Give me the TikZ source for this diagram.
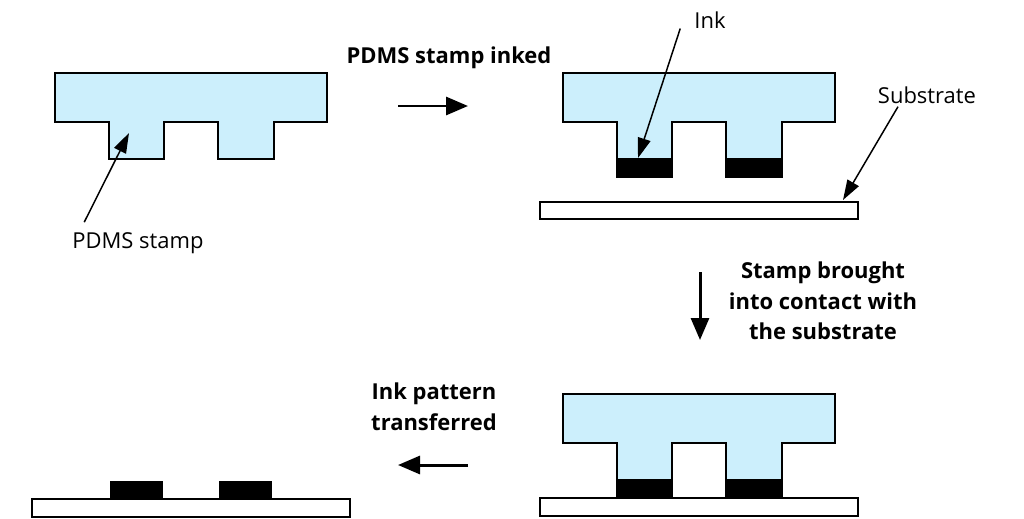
\documentclass[tikz,border=0pt]{standalone}
\usepackage{fontspec}
\setmainfont{Open Sans}
\usepackage{tikz}
\usetikzlibrary{positioning,arrows.meta,calc}
\definecolor{pdmsblue}{RGB}{204,239,252}

% stamp outline, #1 = depth of the teeth
\newcommand{\pdmsstamp}[1]{%
  \draw[stampbody] (0,0) -- (272,0) -- (272,49) -- (219,49) -- (219,#1) -- (163,#1)
    -- (163,49) -- (109,49) -- (109,#1) -- (54,#1) -- (54,49) -- (0,49) -- cycle;}

\begin{document}
\begin{tikzpicture}[x=0.02cm,y=-0.02cm,
  every node/.style={font=\fontsize{12.5}{15}\selectfont},
  steplabel/.style={font=\bfseries\fontsize{12.5}{17.5}\selectfont,align=center},
  stampbody/.style={draw,line width=1.1pt,fill=pdmsblue},
  substrate/.style={draw,line width=1.1pt,fill=white},
  arrow/.style={-{Triangle[length=4.4mm,width=3.6mm]},line width=1.7pt},
  pointer/.style={-{Triangle[length=4mm,width=2.6mm]},line width=0.85pt}
]
  \useasboundingbox (0,0) rectangle (1024,518);

  % step 1: bare stamp
  \begin{scope}[shift={(55,73)}]
    \pdmsstamp{86}
  \end{scope}
  \coordinate (stamptip) at (129,133);
  \node (stamplbl) at (138,243) {PDMS stamp};

  % step 2: inked stamp over the substrate
  \begin{scope}[shift={(563,73)}]
    \pdmsstamp{104}
    \fill (54,85) rectangle (109,104);
    \fill (163,85) rectangle (219,104);
  \end{scope}
  \draw[substrate] (540,202) rectangle (858,219);
  \coordinate (inktip) at (638,158);
  \coordinate (subtip) at (843,200);
  \node (inklbl) at (710,20) {Ink};
  \node (sublbl) at (927,95) {Substrate};

  % step 3: stamp pressed onto the substrate
  \draw[substrate] (540,498) rectangle (858,516);
  \begin{scope}[shift={(563,394)}]
    \pdmsstamp{104}
    \fill (54,85) rectangle (109,104);
    \fill (163,85) rectangle (219,104);
  \end{scope}

  % step 4: printed pattern
  \fill (110,481) rectangle (163,499);
  \fill (219,481) rectangle (272,499);
  \draw[substrate] (32,499) rectangle (350,517);

  % step texts and arrows
  \node[steplabel] (inked) at (449,58) {PDMS stamp inked};
  \node[steplabel] (contact) at (823,301) {Stamp brought\\into contact with\\the substrate};
  \node[steplabel] (transfer) at (434,407) {Ink pattern\\transferred};
  \coordinate (r1) at (398,106); \coordinate (r2) at (468,106);
  \coordinate (d1) at (700,272); \coordinate (d2) at (700,340);
  \coordinate (l1) at (468,465); \coordinate (l2) at (398,465);
  \draw[arrow] (r1) -- (r2);
  \draw[arrow] (d1) -- (d2);
  \draw[arrow] (l1) -- (l2);

  % pointers
  \draw[pointer] ($(stamplbl.north west)+(18,-4)$) -- (stamptip);
  \draw[pointer] ($(inklbl.south west)+(-8,-6)$) -- (inktip);
  \draw[pointer] ($(sublbl.south)+(-29,-3)$) -- (subtip);
\end{tikzpicture}
\end{document}
